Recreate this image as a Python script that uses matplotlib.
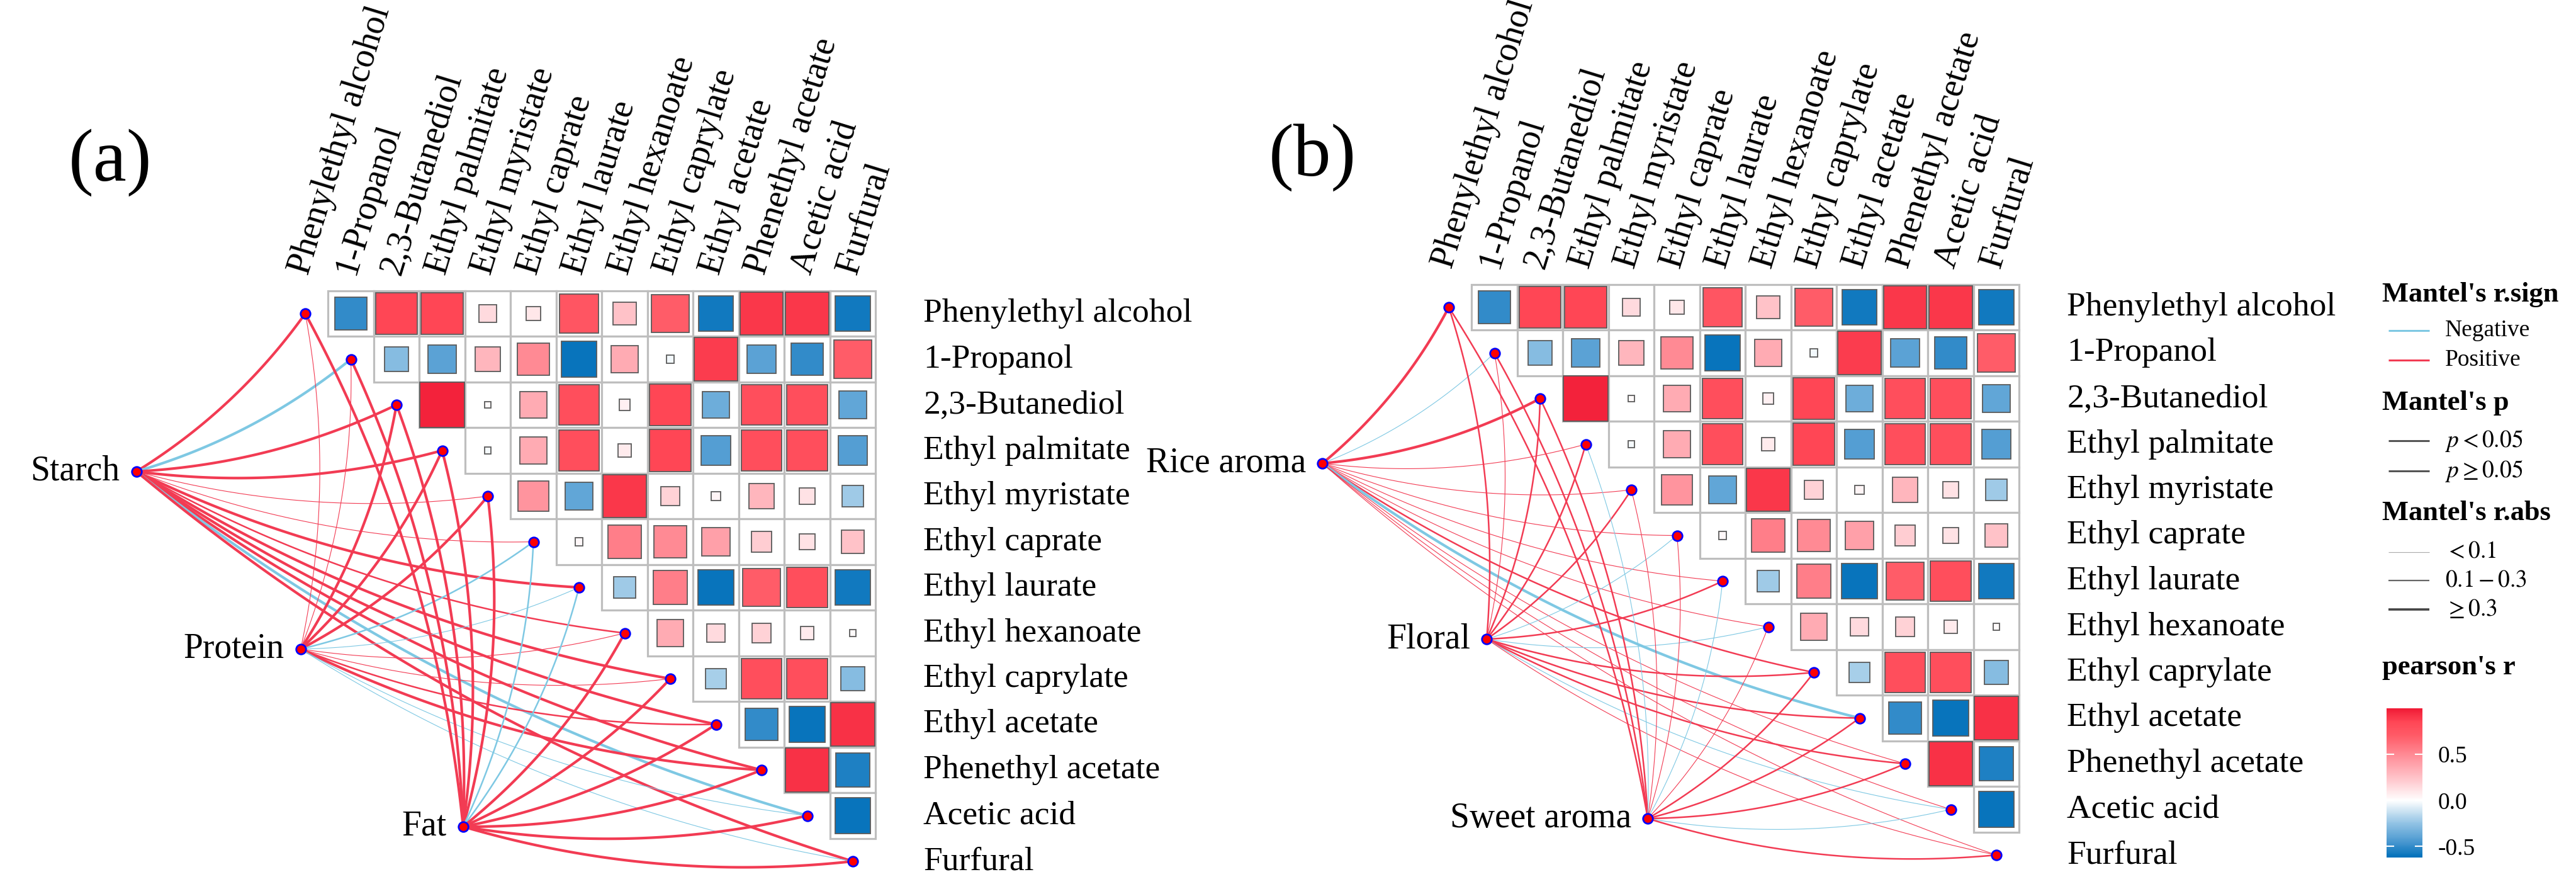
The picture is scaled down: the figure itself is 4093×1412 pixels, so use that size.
import numpy as np
import matplotlib
matplotlib.use("Agg")
import matplotlib.pyplot as plt
from matplotlib.colors import LinearSegmentedColormap, Normalize
from matplotlib.patches import Rectangle
from matplotlib.cm import ScalarMappable

plt.rcParams['font.family'] = ['Liberation Serif', 'DejaVu Serif']
plt.rcParams['mathtext.fontset'] = 'stix'

# ---------------- data ----------------
compounds = ["Phenylethyl alcohol", "1-Propanol", "2,3-Butanediol", "Ethyl palmitate",
             "Ethyl myristate", "Ethyl caprate", "Ethyl laurate", "Ethyl hexanoate",
             "Ethyl caprylate", "Ethyl acetate", "Phenethyl acetate", "Acetic acid", "Furfural"]

# upper triangle of Pearson's r: row i holds columns i+1 .. 12
corr_rows = [
    [-0.50, 0.85, 0.85, 0.15, 0.10, 0.75, 0.25, 0.70, -0.58, 0.90, 0.90, -0.58],
    [-0.28, -0.40, 0.30, 0.50, -0.60, 0.35, -0.03, 0.88, -0.40, -0.50, 0.70],
    [0.97, 0.02, 0.35, 0.80, 0.06, 0.85, -0.35, 0.80, 0.80, -0.38],
    [-0.02, 0.35, 0.80, 0.08, 0.85, -0.42, 0.80, 0.80, -0.42],
    [0.45, -0.38, 0.90, 0.18, 0.04, 0.30, 0.12, -0.22],
    [0.03, 0.55, 0.50, 0.40, 0.20, 0.12, 0.25],
    [-0.22, 0.55, -0.60, 0.70, 0.80, -0.58],
    [0.35, 0.15, 0.18, 0.08, 0.02],
    [-0.20, 0.80, 0.80, -0.28],
    [-0.50, -0.60, 0.92],
    [0.92, -0.55],
    [-0.60],
]

env_a = ["Starch", "Protein", "Fat"]
mantel_a = [
    [0.35, -0.35, 0.35, 0.35, 0.05, 0.05, 0.35, 0.20, 0.35, 0.35, 0.35, -0.35, 0.35],
    [0.05, 0.05, 0.35, 0.35, 0.35, -0.20, -0.05, 0.05, 0.05, 0.20, 0.35, -0.05, -0.05],
    [0.35, 0.35, 0.35, 0.35, 0.35, -0.20, -0.20, 0.35, 0.35, 0.35, 0.35, 0.35, 0.35],
]
env_pos_a = [(-3.70, 3.46), (-0.10, 7.35), (3.46, 11.24)]

env_b = ["Rice aroma", "Floral", "Sweet aroma"]
mantel_b = [
    [0.35, -0.05, 0.35, 0.05, 0.05, 0.05, 0.05, 0.05, 0.20, -0.35, 0.05, 0.05, 0.05],
    [0.20, 0.05, 0.20, 0.20, 0.20, -0.05, 0.20, -0.05, 0.20, 0.20, 0.20, -0.05, 0.05],
    [0.20, 0.20, 0.20, -0.05, 0.05, 0.05, -0.05, 0.05, 0.20, 0.20, 0.20, -0.05, 0.20],
]
env_pos_b = [(-2.77, 3.42), (0.83, 7.27), (4.36, 11.20)]

cbar_ticks = [0.5, 0.0, -0.5]

# ---------------- styling ----------------
W, H = 4093, 1412
STEP = 72.5
POS_COL = '#F23B53'
NEG_COL = '#7EC8E3'
LABEL_FS = 38.5
COL_FS = 40
ENV_FS = 40

vmin, vmax = -0.62, 1.0
anchors = [(-0.62, '#0070BA'), (-0.45, '#4A98D0'), (-0.25, '#92C3E4'), (0.0, '#FFFFFF'),
           (0.2, '#FFCDD2'), (0.45, '#FF959F'), (0.7, '#FF5C68'), (0.85, '#FF4756'),
           (1.0, '#F01A35')]
cmap = LinearSegmentedColormap.from_list(
    'pr', [((v - vmin) / (vmax - vmin), c) for v, c in anchors])
norm = Normalize(vmin=vmin, vmax=vmax)

fig = plt.figure(figsize=(W / 100, H / 100), dpi=100)


def panel_axes(x0, y0):
    ax = fig.add_axes([0, 0, 1, 1])
    ax.set_xlim(-x0 / STEP, (W - x0) / STEP)
    ax.set_ylim((H - y0) / STEP, -y0 / STEP)
    ax.axis('off')
    ax.patch.set_alpha(0)
    return ax


def width_of(r):
    a = abs(r)
    if a >= 0.3:
        return 3.0
    if a >= 0.1:
        return 1.8
    return 0.8


def draw_panel(ax, env_names, env_pos, mantel):
    n = len(compounds)
    # links
    for e, (name, (ex, ey)) in enumerate(zip(env_names, env_pos)):
        p0 = np.array([ex, ey])
        for j in range(n):
            r = mantel[e][j]
            p2 = np.array([j, j], dtype=float)
            d = p2 - p0
            p1 = (p0 + p2) / 2 + 0.10 * np.array([-d[1], d[0]])
            t = np.linspace(0, 1, 80)[:, None]
            pts = (1 - t) ** 2 * p0 + 2 * (1 - t) * t * p1 + t ** 2 * p2
            ax.plot(pts[:, 0], pts[:, 1], color=POS_COL if r > 0 else NEG_COL,
                    lw=width_of(r), solid_capstyle='butt', zorder=2)
        ax.text(ex - 0.36, ey, name, ha='right', va='center', fontsize=ENV_FS)
    ex = [p[0] for p in env_pos]
    ey = [p[1] for p in env_pos]
    ax.scatter(ex, ey, s=125, c='#FF0000', edgecolors='#0000FF', linewidths=2, zorder=6)
    # heatmap cells
    for i, row in enumerate(corr_rows):
        for k, r in enumerate(row):
            j = i + 1 + k
            ax.add_patch(Rectangle((j - 0.5, i - 0.5), 1, 1, fc='white', ec='#BEBEBE',
                                   lw=2.3, zorder=3))
    for i, row in enumerate(corr_rows):
        for k, r in enumerate(row):
            j = i + 1 + k
            s = np.sqrt(abs(r))
            ax.add_patch(Rectangle((j - s / 2, i - s / 2), s, s, fc=cmap(norm(r)),
                                   ec='#5A5A5A', lw=1.3, zorder=4))
    # diagonal nodes
    idx = np.arange(n)
    ax.scatter(idx, idx, s=125, c='#FF0000', edgecolors='#0000FF', linewidths=2, zorder=6)
    # labels
    for i, name in enumerate(compounds):
        ax.text(n - 1 + 1.55, i, name, ha='left', va='center', fontsize=LABEL_FS)
        ax.text(i - 0.12, -0.88, name, rotation=73, rotation_mode='anchor',
                ha='left', va='center', fontsize=COL_FS)


axa = panel_axes(485, 498)
draw_panel(axa, env_a, env_pos_a, mantel_a)
axb = panel_axes(2302, 488)
draw_panel(axb, env_b, env_pos_b, mantel_b)

# overlay in pixel coordinates for panel tags and legend
ov = fig.add_axes([0, 0, 1, 1])
ov.set_xlim(0, W)
ov.set_ylim(H, 0)
ov.axis('off')
ov.patch.set_alpha(0)
ov.text(175, 258, '(a)', fontsize=86, ha='center', va='center')
ov.text(2085, 250, '(b)', fontsize=86, ha='center', va='center')

LX0, LX1, TX = 3795, 3860, 3885
tfs, ifs = 32, 27


def title(y, s):
    ov.text(3785, y, s, fontsize=tfs, fontweight='bold', ha='left', va='center')


def item(y, s, color, lw):
    ov.plot([LX0, LX1], [y, y], color=color, lw=lw, solid_capstyle='butt')
    ov.text(TX, y, s, fontsize=ifs, ha='left', va='center')


title(468, "Mantel's r.sign")
item(525, 'Negative', NEG_COL, 2.2)
item(572, 'Positive', POS_COL, 2.2)
title(640, "Mantel's p")
item(700, r'$p<0.05$', '#555555', 2.2)
item(748, r'$p\geq0.05$', '#555555', 2.2)
title(815, "Mantel's r.abs")
item(877, r'$<0.1$', '#AAAAAA', 0.8)
item(922, r'$0.1-0.3$', '#666666', 1.6)
item(968, r'$\geq0.3$', '#444444', 2.6)
title(1060, "pearson's r")

cb_top, cb_bot = 1125, 1362
cax = fig.add_axes([3792 / W, 1 - cb_bot / H, 57 / W, (cb_bot - cb_top) / H])
sm = ScalarMappable(norm=norm, cmap=cmap)
cb = fig.colorbar(sm, cax=cax, ticks=cbar_ticks)
cb.outline.set_visible(False)
cb.ax.set_yticklabels(['%.1f' % t for t in cbar_ticks], fontsize=27)
cb.ax.tick_params(length=0, pad=18)
for t in cbar_ticks:
    cax.plot([0, 0.2], [t, t], color='white', lw=1.5, transform=cax.get_yaxis_transform())
    cax.plot([0.8, 1.0], [t, t], color='white', lw=1.5, transform=cax.get_yaxis_transform())

fig.savefig('out.png', dpi=100)
